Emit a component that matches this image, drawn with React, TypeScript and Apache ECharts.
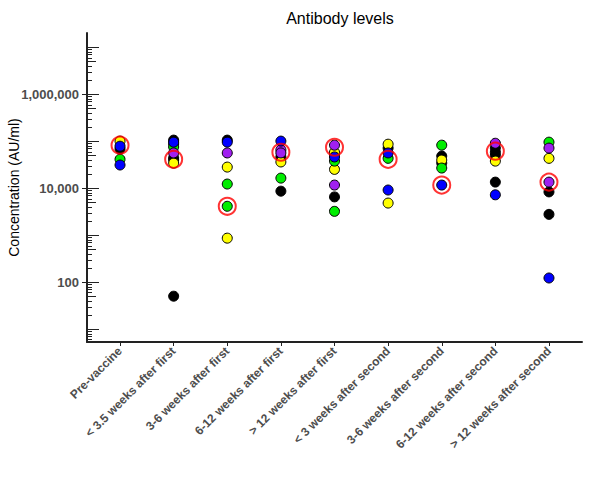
import React, { useEffect, useRef } from "react";
import * as echarts from "echarts";

const categories = [
  "Pre-vaccine",
  "< 3.5 weeks after first",
  "3-6 weeks after first",
  "6-12 weeks after first",
  "> 12 weeks after first",
  "< 3 weeks after second",
  "3-6 weeks after second",
  "6-12 weeks after second",
  "> 12 weeks after second",
];

// [category index, concentration AU/ml]
const blackPoints: [number, number][] = [
  [0, 68000], [1, 105000], [1, 44000], [1, 40000], [1, 50],
  [2, 105000], [3, 46000], [3, 8600], [4, 53000], [4, 6500],
  [5, 71000], [6, 48000], [6, 34000], [7, 71000], [7, 58000],
  [7, 50000], [7, 13400], [8, 8300], [8, 2760],
];
const yellowPoints: [number, number][] = [
  [0, 100000], [1, 87000], [1, 34000], [2, 28000], [2, 860],
  [3, 36000], [4, 58000], [4, 25000], [5, 86000], [5, 4800],
  [6, 39500], [7, 37500], [8, 43000],
];
const greenPoints: [number, number][] = [
  [0, 41000], [1, 75000], [2, 12200], [2, 4100], [3, 16300],
  [4, 37500], [4, 3200], [5, 43000], [6, 82000], [6, 26700], [8, 95000],
];
const purplePoints: [number, number][] = [
  [1, 56000], [2, 56000], [3, 65000], [3, 56000], [4, 82000],
  [4, 11600], [7, 90000], [8, 71000], [8, 13400],
];
const bluePoints: [number, number][] = [
  [0, 78000], [0, 31000], [1, 95000], [2, 95000], [3, 100000],
  [4, 46000], [5, 56000], [5, 9100], [6, 11600], [7, 7200], [8, 122],
];
// highlighted (red ring) value per category
const ringValues = [82000, 41000, 4100, 58000, 74000, 41000, 11600, 61000, 13400];

const yMin = 5.3;
const yMax = 2e7;
const decadeTicks = [10, 100, 1000, 10000, 100000, 1000000, 10000000];
const labelTicks = [100, 10000, 1000000];
const minorMultipliers = [2, 3, 4, 5, 6, 7, 8, 9];

const FONT = "'Liberation Sans', Arial, Helvetica, sans-serif";
const LABEL_COLOR = "#4d4d4d";
const AXIS_COLOR = "#222";

function buildTickData() {
  const out: number[][] = [];
  decadeTicks.forEach((d) => {
    out.push([0, d, labelTicks.indexOf(d) >= 0 ? 3 : 0]);
  });
  [1, 10, 100, 1000, 10000, 100000, 1000000, 10000000].forEach((d) => {
    minorMultipliers.forEach((m) => {
      const v = d * m;
      if (v > yMin && v < yMax) out.push([0, v, m === 5 ? 1 : 2]);
    });
  });
  return out;
}

export default function App() {
  const ref = useRef<HTMLDivElement>(null);
  useEffect(() => {
    if (!ref.current) return;
    const chart = echarts.init(ref.current, null, { renderer: "svg" });
    const pointSeries = (name: string, color: string, data: [number, number][]) => ({
      type: "scatter",
      name,
      xAxisIndex: 0,
      yAxisIndex: 0,
      data,
      symbol: "circle",
      symbolSize: 10,
      itemStyle: { color, borderColor: "#000", borderWidth: 1, opacity: 1 },
      z: 3,
    });
    chart.setOption({
      animation: false,
      backgroundColor: "#fff",
      title: {
        text: "Antibody levels",
        left: 335,
        top: 5,
        textAlign: "center",
        textStyle: { fontFamily: FONT, fontSize: 16, fontWeight: "normal", color: "#000" },
      },
      grid: [
        { left: 87, right: 7, top: 33, bottom: 141, containLabel: false, outerBoundsMode: "none" },
        { left: 93, right: 13, top: 33, bottom: 141, containLabel: false, outerBoundsMode: "none" },
      ],
      xAxis: [
        {
          type: "value",
          gridIndex: 0,
          min: -0.616,
          max: 8.616,
          axisLine: { show: true, onZero: false, lineStyle: { color: AXIS_COLOR, width: 2 } },
          axisTick: { show: false },
          axisLabel: { show: false },
          splitLine: { show: false },
        },
        {
          type: "category",
          gridIndex: 1,
          data: categories,
          boundaryGap: true,
          axisLine: { show: false },
          axisTick: { show: true, alignWithLabel: true, length: 4, lineStyle: { color: AXIS_COLOR, width: 1 } },
          axisLabel: {
            rotate: 45,
            interval: 0,
            margin: 7,
            color: LABEL_COLOR,
            fontFamily: FONT,
            fontSize: 12,
            fontWeight: "bold",
          },
          splitLine: { show: false },
        },
      ],
      yAxis: [
        {
          type: "log",
          gridIndex: 0,
          logBase: 10,
          min: yMin,
          max: yMax,
          name: "Concentration (AU/ml)",
          nameLocation: "middle",
          nameRotate: 90,
          nameGap: 66,
          nameMoveOverlap: false,
          nameTextStyle: { fontFamily: FONT, fontSize: 14, color: "#000" },
          axisLine: { show: true, onZero: false, lineStyle: { color: AXIS_COLOR, width: 2 } },
          axisTick: { show: false },
          splitLine: { show: false },
          minorTick: { show: false },
          axisLabel: {
            showMinLabel: false,
            showMaxLabel: false,
            margin: 8,
            color: LABEL_COLOR,
            fontFamily: FONT,
            fontSize: 13,
            fontWeight: "bold",
            formatter: (v: number) => {
              const hit = labelTicks.find((t) => Math.abs(v - t) / t < 1e-6);
              return hit ? hit.toLocaleString("en-US") : "";
            },
          },
        },
        {
          type: "log",
          gridIndex: 1,
          min: yMin,
          max: yMax,
          show: false,
        },
      ],
      series: [
        {
          type: "custom",
          xAxisIndex: 0,
          yAxisIndex: 0,
          data: buildTickData(),
          encode: { x: 0, y: 1 },
          silent: true,
          z: 1,
          renderItem: (params: any, api: any) => {
            const y = Math.round(api.coord([0, api.value(1)])[1]) + 0.5;
            const x0 = params.coordSys.x;
            const kind = api.value(2);
            const len = kind === 0 || kind === 3 ? 12 : kind === 1 ? 9 : 5;
            const start = kind === 3 ? x0 - 5 : x0;
            return {
              type: "line",
              shape: { x1: start, y1: y, x2: x0 + len, y2: y },
              style: { stroke: AXIS_COLOR, lineWidth: 1 },
            };
          },
        },
        pointSeries("black", "#000000", blackPoints),
        pointSeries("yellow", "#ffff00", yellowPoints),
        pointSeries("green", "#00ee00", greenPoints),
        pointSeries("purple", "#a020f0", purplePoints),
        pointSeries("blue", "#0000ff", bluePoints),
        {
          type: "scatter",
          name: "highlight",
          xAxisIndex: 0,
          yAxisIndex: 0,
          data: ringValues.map((v, i) => [i, v]),
          symbol: "circle",
          symbolSize: 17,
          itemStyle: { color: "rgba(0,0,0,0)", borderColor: "#ff0000", borderWidth: 2 },
          z: 4,
        },
      ],
    });
    return () => chart.dispose();
  }, []);
  return (
    <div
      ref={ref}
      style={{ position: "fixed", left: 0, top: 0, width: 589, height: 483 }}
    />
  );
}
